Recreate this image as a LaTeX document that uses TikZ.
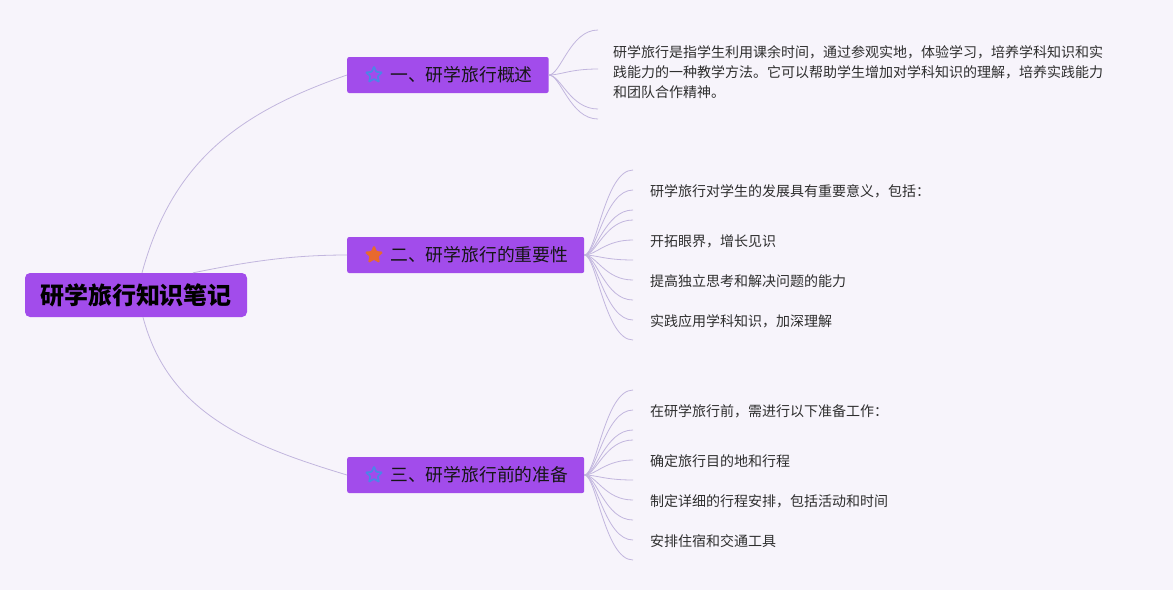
\documentclass[tikz,border=0pt]{standalone}
\usepackage{fontspec}
\setmainfont{Noto Sans CJK SC}
\usepackage{xcolor}
\usetikzlibrary{shapes.geometric}

\definecolor{bgcol}{HTML}{F7F4FB}
\definecolor{nodepurple}{HTML}{A24CEB}
\definecolor{linkcol}{HTML}{C2B6DE}
\definecolor{starblue}{HTML}{4A86E8}
\definecolor{starorange}{HTML}{E8692E}
\definecolor{textdark}{HTML}{151515}
\definecolor{textgray}{HTML}{2E2E2E}

\tikzset{
  root/.style={fill=nodepurple, rounded corners=5pt, minimum width=222pt, minimum height=44pt,
    font=\fontsize{24}{28}\selectfont\bfseries, text=black},
  branch/.style={fill=nodepurple, rounded corners=2pt, minimum height=36pt, inner xsep=16pt,
    anchor=west, font=\fontsize{17.8}{20}\selectfont, text=textdark},
  leaf/.style={anchor=west, inner sep=0pt, font=\fontsize{14}{20}\selectfont, text=textgray},
  link/.style={draw=linkcol, line width=0.8pt},
  staricon/.style={star, star points=5, star point ratio=2.2, minimum size=17pt, inner sep=0pt,
    line width=1.6pt, rounded corners=0.8pt},
}

\begin{document}
\begin{tikzpicture}[x=1pt,y=-1pt]
\fill[bgcol] (0,0) rectangle (1173,590);

% root and main branches
\node[root] (root) at (136,295) {研学旅行知识笔记};
\node[branch] (b1) at (347,75) {\hspace{27pt}一、研学旅行概述};
\node[branch] (b2) at (347,255) {\hspace{27pt}二、研学旅行的重要性};
\node[branch] (b3) at (347,475) {\hspace{27pt}三、研学旅行前的准备};
\node[staricon, draw=starblue] (s1) at ([xshift=27pt]b1.west) {};
\node[staricon, draw=starorange, fill=starorange] (s2) at ([xshift=27pt]b2.west) {};
\node[staricon, draw=starblue] (s3) at ([xshift=27pt]b3.west) {};

\draw[link] ([xshift=6pt]root.north) .. controls +(30,-110) and +(-110,38) .. (b1.west);
\draw[link] ([xshift=57pt]root.north) .. controls +(50,-10) and +(-60,0) .. (b2.west);
\draw[link] ([xshift=7pt]root.south) .. controls +(25,95) and +(-100,-30) .. (b3.west);

% leaves of branch 1
\foreach \y [count=\i] in {30,69,109,119}
  \coordinate (e1\i) at (598,\y);
\foreach \i in {1,...,4}
  \draw[link] (b1.east) .. controls +(12,0) and +(-28,0) .. (e1\i);
\node[leaf, align=left] (p1) at (613,72)
  {研学旅行是指学生利用课余时间，通过参观实地，体验学习，培养学科知识和实\\
   践能力的一种教学方法。它可以帮助学生增加对学科知识的理解，培养实践能力\\
   和团队合作精神。};

% leaves of branch 2 and 3
\foreach \d [count=\i] in {-85,-65,-45,-35,-15,5,25,45,65,85} {
  \coordinate (e2\i) at (633,255+\d);
  \coordinate (e3\i) at (633,475+\d);
  \draw[link] (b2.east) .. controls +(12,0) and +(-28,0) .. (e2\i);
  \draw[link] (b3.east) .. controls +(12,0) and +(-28,0) .. (e3\i);
}
\node[leaf] (l21) at (650,191) {研学旅行对学生的发展具有重要意义，包括：};
\node[leaf] (l22) at (650,241) {开拓眼界，增长见识};
\node[leaf] (l23) at (650,281) {提高独立思考和解决问题的能力};
\node[leaf] (l24) at (650,321) {实践应用学科知识，加深理解};
\node[leaf] (l31) at (650,411) {在研学旅行前，需进行以下准备工作：};
\node[leaf] (l32) at (650,461) {确定旅行目的地和行程};
\node[leaf] (l33) at (650,501) {制定详细的行程安排，包括活动和时间};
\node[leaf] (l34) at (650,541) {安排住宿和交通工具};
\end{tikzpicture}
\end{document}
